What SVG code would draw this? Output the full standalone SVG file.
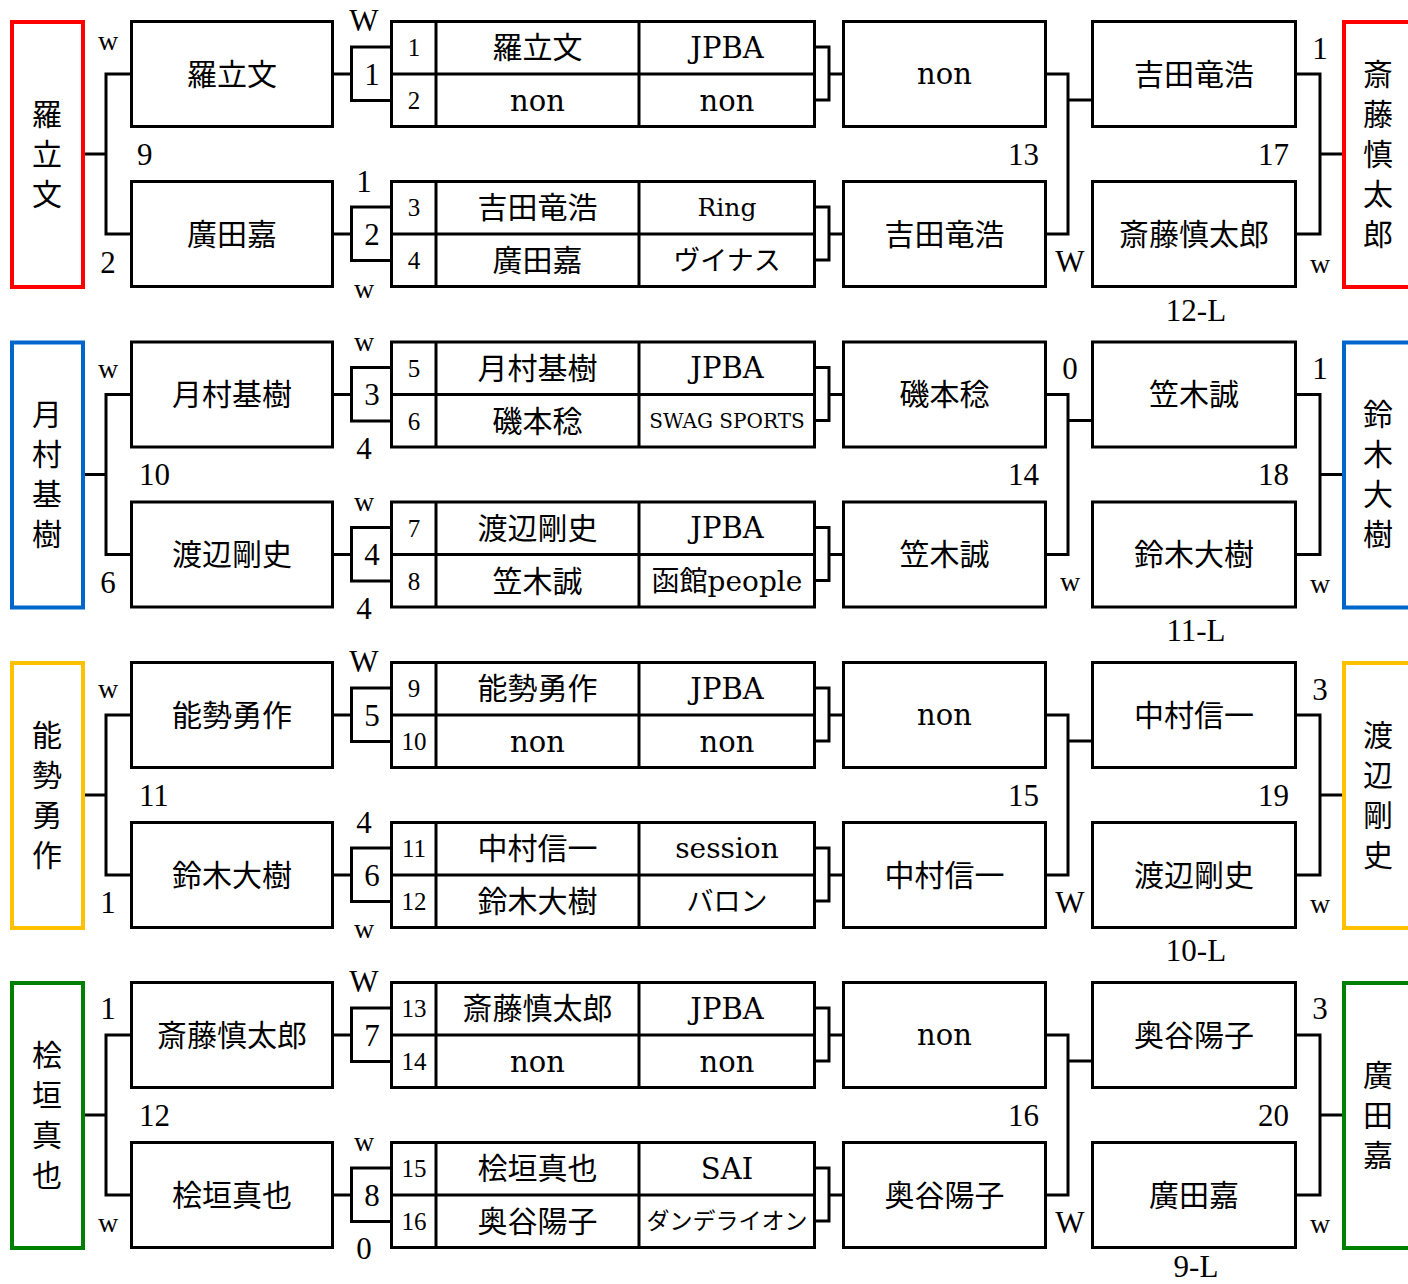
<svg xmlns="http://www.w3.org/2000/svg" width="1408" height="1284" viewBox="0 0 1408 1284">
<style>
.bx{fill:#fff;stroke:#000;stroke-width:3}
.ln{fill:none;stroke:#000;stroke-width:3}
.ch{fill:none;stroke-width:4}
text{text-anchor:middle;dominant-baseline:central;fill:#000}
.cj{font-family:"Liberation Serif","Noto Sans CJK JP",serif;font-size:30px}
.lt{font-family:"DejaVu Serif","Noto Sans CJK JP",serif;font-size:29px}
.nm{font-family:"Liberation Serif",serif;font-size:31px}
.sm{font-family:"Liberation Serif",serif;font-size:25px}
.wl{font-family:"Liberation Serif",serif;font-size:28px}
.st{text-anchor:start}
.en{text-anchor:end}
</style>
<rect width="1408" height="1284" fill="#fff"/>

<!-- ===== Block 1 ===== -->
<g id="block1">
<g id="b1-connectors">
<path class="ln" d="M85,154H106M131,74H106V234H131M333,74H351M333,234H351M815,47H829V100H815M829,74H843M815,207H829V260H815M829,234H843M1046,74H1068V234H1046M1068,100H1092M1296,74H1320V234H1296M1320,154H1342"/>
</g>
<g id="b1-left"><rect class="ch" stroke="#FF0000" x="12" y="22" width="71" height="265"/>
<text class="cj" x="47" y="114">羅</text><text class="cj" x="47" y="154">立</text><text class="cj" x="47" y="194">文</text></g>
<g id="b1-pA"><rect class="bx" x="131.5" y="21.5" width="201" height="105"/><text class="cj" x="232" y="74">羅立文</text></g>
<g id="b1-pB"><rect class="bx" x="131.5" y="181.5" width="201" height="105"/><text class="cj" x="232" y="234">廣田嘉</text></g>
<g id="b1-m1"><path class="ln" d="M391,47H351.5V100.5H391"/><text class="nm" x="372" y="74">1</text></g>
<g id="b1-m2"><path class="ln" d="M391,207H351.5V260.5H391"/><text class="nm" x="372" y="234">2</text></g>
<g id="b1-t1"><rect class="bx" x="391.5" y="21.5" width="423" height="105"/><path class="ln" d="M391.5,74H814.5M436,21.5V126.5M639,21.5V126.5"/>
<text class="sm" x="414" y="47.5">1</text><text class="sm" x="414" y="100.5">2</text>
<text class="cj" x="537.5" y="47.5">羅立文</text><text class="lt" x="537.5" y="100.5">non</text>
<text class="lt" x="727" y="47.5">JPBA</text><text class="lt" x="727" y="100.5">non</text></g>
<g id="b1-t2"><rect class="bx" x="391.5" y="181.5" width="423" height="105"/><path class="ln" d="M391.5,234H814.5M436,181.5V286.5M639,181.5V286.5"/>
<text class="sm" x="414" y="207.5">3</text><text class="sm" x="414" y="260.5">4</text>
<text class="cj" x="537.5" y="207.5">吉田竜浩</text><text class="cj" x="537.5" y="260.5">廣田嘉</text>
<text class="lt" x="727" y="207.5" style="font-size:25px">Ring</text><text class="cj" x="727" y="260.5" style="font-size:27px">ヴイナス</text></g>
<g id="b1-pC"><rect class="bx" x="843.5" y="21.5" width="202" height="105"/><text class="lt" x="944.5" y="74">non</text></g>
<g id="b1-pD"><rect class="bx" x="843.5" y="181.5" width="202" height="105"/><text class="cj" x="944.5" y="234">吉田竜浩</text></g>
<g id="b1-pE"><rect class="bx" x="1092.5" y="21.5" width="203" height="105"/><text class="cj" x="1194" y="74">吉田竜浩</text></g>
<g id="b1-pF"><rect class="bx" x="1092.5" y="181.5" width="203" height="105"/><text class="cj" x="1194" y="234">斎藤慎太郎</text></g>
<g id="b1-right"><rect class="ch" stroke="#FF0000" x="1344" y="22" width="80" height="265"/>
<text class="cj" x="1378" y="74">斎</text><text class="cj" x="1378" y="114">藤</text><text class="cj" x="1378" y="154">慎</text><text class="cj" x="1378" y="194">太</text><text class="cj" x="1378" y="234">郎</text></g>
<g id="b1-labels">
<text class="wl" x="108" y="40">w</text><text class="nm st" x="137" y="154">9</text><text class="nm" x="108" y="262">2</text>
<text class="nm" x="364" y="20">W</text><text class="nm" x="364" y="181">1</text><text class="wl" x="364" y="288">w</text>
<text class="nm en" x="1039" y="154">13</text><text class="nm" x="1070" y="261">W</text><text class="nm en" x="1289" y="154">17</text>
<text class="nm" x="1320" y="48">1</text><text class="wl" x="1320" y="263">w</text><text class="nm" x="1196" y="310">12-L</text>
</g>
</g>

<!-- ===== Block 2 ===== -->
<g id="block2" transform="translate(0,320.5)">
<g id="b2-connectors">
<path class="ln" d="M85,154H106M131,74H106V234H131M333,74H351M333,234H351M815,47H829V100H815M829,74H843M815,207H829V260H815M829,234H843M1046,74H1068V234H1046M1068,100H1092M1296,74H1320V234H1296M1320,154H1342"/>
</g>
<g id="b2-left"><rect class="ch" stroke="#0066CC" x="12" y="22" width="71" height="265"/>
<text class="cj" x="47" y="94">月</text><text class="cj" x="47" y="134">村</text><text class="cj" x="47" y="174">基</text><text class="cj" x="47" y="214">樹</text></g>
<g id="b2-pA"><rect class="bx" x="131.5" y="21.5" width="201" height="105"/><text class="cj" x="232" y="74">月村基樹</text></g>
<g id="b2-pB"><rect class="bx" x="131.5" y="181.5" width="201" height="105"/><text class="cj" x="232" y="234">渡辺剛史</text></g>
<g id="b2-m3"><path class="ln" d="M391,47H351.5V100.5H391"/><text class="nm" x="372" y="74">3</text></g>
<g id="b2-m4"><path class="ln" d="M391,207H351.5V260.5H391"/><text class="nm" x="372" y="234">4</text></g>
<g id="b2-t3"><rect class="bx" x="391.5" y="21.5" width="423" height="105"/><path class="ln" d="M391.5,74H814.5M436,21.5V126.5M639,21.5V126.5"/>
<text class="sm" x="414" y="47.5">5</text><text class="sm" x="414" y="100.5">6</text>
<text class="cj" x="537.5" y="47.5">月村基樹</text><text class="cj" x="537.5" y="100.5">磯本稔</text>
<text class="lt" x="727" y="47.5">JPBA</text><text class="lt" x="727" y="100.5" style="font-size:20px">SWAG SPORTS</text></g>
<g id="b2-t4"><rect class="bx" x="391.5" y="181.5" width="423" height="105"/><path class="ln" d="M391.5,234H814.5M436,181.5V286.5M639,181.5V286.5"/>
<text class="sm" x="414" y="207.5">7</text><text class="sm" x="414" y="260.5">8</text>
<text class="cj" x="537.5" y="207.5">渡辺剛史</text><text class="cj" x="537.5" y="260.5">笠木誠</text>
<text class="lt" x="727" y="207.5">JPBA</text><text class="lt" x="727" y="260.5" style="font-size:28px">函館people</text></g>
<g id="b2-pC"><rect class="bx" x="843.5" y="21.5" width="202" height="105"/><text class="cj" x="944.5" y="74">磯本稔</text></g>
<g id="b2-pD"><rect class="bx" x="843.5" y="181.5" width="202" height="105"/><text class="cj" x="944.5" y="234">笠木誠</text></g>
<g id="b2-pE"><rect class="bx" x="1092.5" y="21.5" width="203" height="105"/><text class="cj" x="1194" y="74">笠木誠</text></g>
<g id="b2-pF"><rect class="bx" x="1092.5" y="181.5" width="203" height="105"/><text class="cj" x="1194" y="234">鈴木大樹</text></g>
<g id="b2-right"><rect class="ch" stroke="#0066CC" x="1344" y="22" width="80" height="265"/>
<text class="cj" x="1378" y="94">鈴</text><text class="cj" x="1378" y="134">木</text><text class="cj" x="1378" y="174">大</text><text class="cj" x="1378" y="214">樹</text></g>
<g id="b2-labels">
<text class="wl" x="108" y="48">w</text><text class="nm st" x="139" y="154">10</text><text class="nm" x="108" y="262">6</text>
<text class="wl" x="364" y="21">w</text><text class="nm" x="364" y="128">4</text><text class="wl" x="364" y="181">w</text><text class="nm" x="364" y="288">4</text>
<text class="nm" x="1070" y="48">0</text>
<text class="nm en" x="1039" y="154">14</text><text class="wl" x="1070" y="261">w</text><text class="nm en" x="1289" y="154">18</text>
<text class="nm" x="1320" y="48">1</text><text class="wl" x="1320" y="263">w</text><text class="nm" x="1196" y="310">11-L</text>
</g>
</g>

<!-- ===== Block 3 ===== -->
<g id="block3" transform="translate(0,641)">
<g id="b3-connectors">
<path class="ln" d="M85,154H106M131,74H106V234H131M333,74H351M333,234H351M815,47H829V100H815M829,74H843M815,207H829V260H815M829,234H843M1046,74H1068V234H1046M1068,100H1092M1296,74H1320V234H1296M1320,154H1342"/>
</g>
<g id="b3-left"><rect class="ch" stroke="#FFC000" x="12" y="22" width="71" height="265"/>
<text class="cj" x="47" y="94">能</text><text class="cj" x="47" y="134">勢</text><text class="cj" x="47" y="174">勇</text><text class="cj" x="47" y="214">作</text></g>
<g id="b3-pA"><rect class="bx" x="131.5" y="21.5" width="201" height="105"/><text class="cj" x="232" y="74">能勢勇作</text></g>
<g id="b3-pB"><rect class="bx" x="131.5" y="181.5" width="201" height="105"/><text class="cj" x="232" y="234">鈴木大樹</text></g>
<g id="b3-m5"><path class="ln" d="M391,47H351.5V100.5H391"/><text class="nm" x="372" y="74">5</text></g>
<g id="b3-m6"><path class="ln" d="M391,207H351.5V260.5H391"/><text class="nm" x="372" y="234">6</text></g>
<g id="b3-t5"><rect class="bx" x="391.5" y="21.5" width="423" height="105"/><path class="ln" d="M391.5,74H814.5M436,21.5V126.5M639,21.5V126.5"/>
<text class="sm" x="414" y="47.5">9</text><text class="sm" x="414" y="100.5">10</text>
<text class="cj" x="537.5" y="47.5">能勢勇作</text><text class="lt" x="537.5" y="100.5">non</text>
<text class="lt" x="727" y="47.5">JPBA</text><text class="lt" x="727" y="100.5">non</text></g>
<g id="b3-t6"><rect class="bx" x="391.5" y="181.5" width="423" height="105"/><path class="ln" d="M391.5,234H814.5M436,181.5V286.5M639,181.5V286.5"/>
<text class="sm" x="414" y="207.5">11</text><text class="sm" x="414" y="260.5">12</text>
<text class="cj" x="537.5" y="207.5">中村信一</text><text class="cj" x="537.5" y="260.5">鈴木大樹</text>
<text class="lt" x="727" y="207.5" style="font-size:28px">session</text><text class="cj" x="727" y="260.5" style="font-size:27px">バロン</text></g>
<g id="b3-pC"><rect class="bx" x="843.5" y="21.5" width="202" height="105"/><text class="lt" x="944.5" y="74">non</text></g>
<g id="b3-pD"><rect class="bx" x="843.5" y="181.5" width="202" height="105"/><text class="cj" x="944.5" y="234">中村信一</text></g>
<g id="b3-pE"><rect class="bx" x="1092.5" y="21.5" width="203" height="105"/><text class="cj" x="1194" y="74">中村信一</text></g>
<g id="b3-pF"><rect class="bx" x="1092.5" y="181.5" width="203" height="105"/><text class="cj" x="1194" y="234">渡辺剛史</text></g>
<g id="b3-right"><rect class="ch" stroke="#FFC000" x="1344" y="22" width="80" height="265"/>
<text class="cj" x="1378" y="94">渡</text><text class="cj" x="1378" y="134">辺</text><text class="cj" x="1378" y="174">剛</text><text class="cj" x="1378" y="214">史</text></g>
<g id="b3-labels">
<text class="wl" x="108" y="47">w</text><text class="nm st" x="139" y="154">11</text><text class="nm" x="108" y="261">1</text>
<text class="nm" x="364" y="20">W</text><text class="nm" x="364" y="181">4</text><text class="wl" x="364" y="287">w</text>
<text class="nm en" x="1039" y="154">15</text><text class="nm" x="1070" y="261">W</text><text class="nm en" x="1289" y="154">19</text>
<text class="nm" x="1320" y="48">3</text><text class="wl" x="1320" y="262">w</text><text class="nm" x="1196" y="309">10-L</text>
</g>
</g>

<!-- ===== Block 4 ===== -->
<g id="block4" transform="translate(0,961)">
<g id="b4-connectors">
<path class="ln" d="M85,154H106M131,74H106V234H131M333,74H351M333,234H351M815,47H829V100H815M829,74H843M815,207H829V260H815M829,234H843M1046,74H1068V234H1046M1068,100H1092M1296,74H1320V234H1296M1320,154H1342"/>
</g>
<g id="b4-left"><rect class="ch" stroke="#008000" x="12" y="22" width="71" height="265"/>
<text class="cj" x="47" y="94">桧</text><text class="cj" x="47" y="134">垣</text><text class="cj" x="47" y="174">真</text><text class="cj" x="47" y="214">也</text></g>
<g id="b4-pA"><rect class="bx" x="131.5" y="21.5" width="201" height="105"/><text class="cj" x="232" y="74">斎藤慎太郎</text></g>
<g id="b4-pB"><rect class="bx" x="131.5" y="181.5" width="201" height="105"/><text class="cj" x="232" y="234">桧垣真也</text></g>
<g id="b4-m7"><path class="ln" d="M391,47H351.5V100.5H391"/><text class="nm" x="372" y="74">7</text></g>
<g id="b4-m8"><path class="ln" d="M391,207H351.5V260.5H391"/><text class="nm" x="372" y="234">8</text></g>
<g id="b4-t7"><rect class="bx" x="391.5" y="21.5" width="423" height="105"/><path class="ln" d="M391.5,74H814.5M436,21.5V126.5M639,21.5V126.5"/>
<text class="sm" x="414" y="47.5">13</text><text class="sm" x="414" y="100.5">14</text>
<text class="cj" x="537.5" y="47.5">斎藤慎太郎</text><text class="lt" x="537.5" y="100.5">non</text>
<text class="lt" x="727" y="47.5">JPBA</text><text class="lt" x="727" y="100.5">non</text></g>
<g id="b4-t8"><rect class="bx" x="391.5" y="181.5" width="423" height="105"/><path class="ln" d="M391.5,234H814.5M436,181.5V286.5M639,181.5V286.5"/>
<text class="sm" x="414" y="207.5">15</text><text class="sm" x="414" y="260.5">16</text>
<text class="cj" x="537.5" y="207.5">桧垣真也</text><text class="cj" x="537.5" y="260.5">奥谷陽子</text>
<text class="lt" x="727" y="207.5">SAI</text><text class="cj" x="727" y="260.5" style="font-size:23px">ダンデライオン</text></g>
<g id="b4-pC"><rect class="bx" x="843.5" y="21.5" width="202" height="105"/><text class="lt" x="944.5" y="74">non</text></g>
<g id="b4-pD"><rect class="bx" x="843.5" y="181.5" width="202" height="105"/><text class="cj" x="944.5" y="234">奥谷陽子</text></g>
<g id="b4-pE"><rect class="bx" x="1092.5" y="21.5" width="203" height="105"/><text class="cj" x="1194" y="74">奥谷陽子</text></g>
<g id="b4-pF"><rect class="bx" x="1092.5" y="181.5" width="203" height="105"/><text class="cj" x="1194" y="234">廣田嘉</text></g>
<g id="b4-right"><rect class="ch" stroke="#008000" x="1344" y="22" width="80" height="265"/>
<text class="cj" x="1378" y="114">廣</text><text class="cj" x="1378" y="154">田</text><text class="cj" x="1378" y="194">嘉</text></g>
<g id="b4-labels">
<text class="nm" x="108" y="47">1</text><text class="nm st" x="139" y="154">12</text><text class="wl" x="108" y="261">w</text>
<text class="nm" x="364" y="20">W</text><text class="wl" x="364" y="180">w</text><text class="nm" x="364" y="287">0</text>
<text class="nm en" x="1039" y="154">16</text><text class="nm" x="1070" y="261">W</text><text class="nm en" x="1289" y="154">20</text>
<text class="nm" x="1320" y="47">3</text><text class="wl" x="1320" y="262">w</text><text class="nm" x="1196" y="305">9-L</text>
</g>
</g>
</svg>
